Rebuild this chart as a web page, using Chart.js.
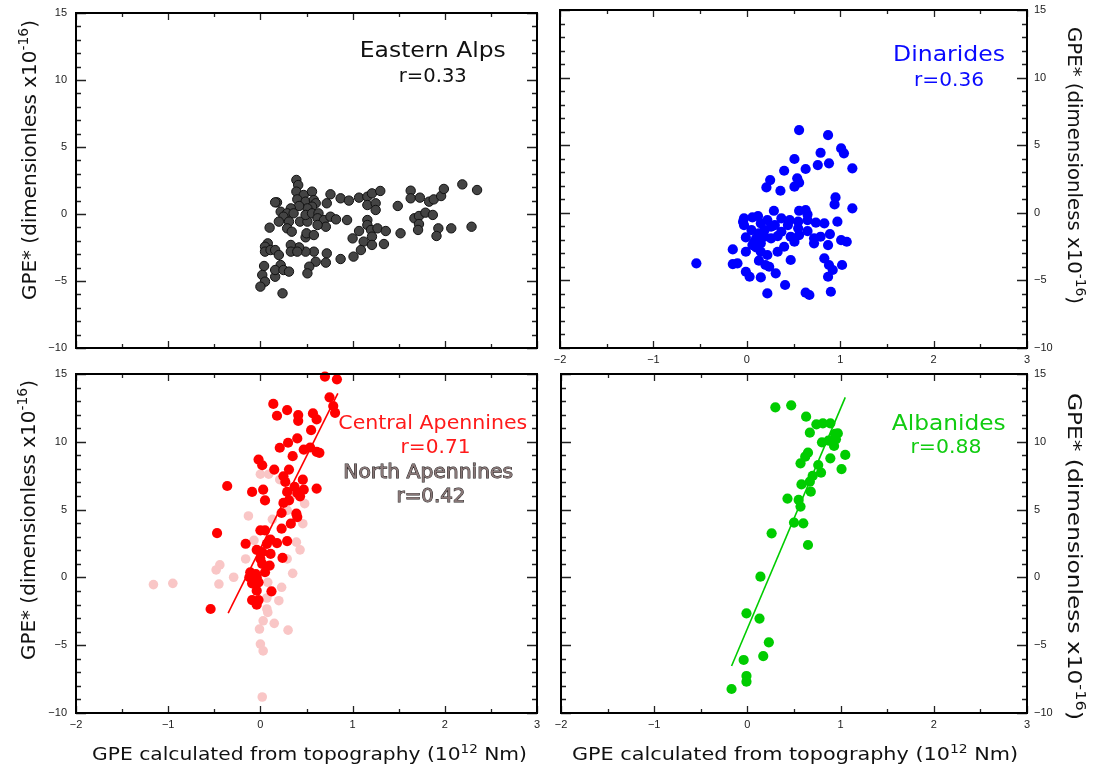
<!DOCTYPE html>
<html>
<head>
<meta charset="utf-8">
<script src="https://cdn.jsdelivr.net/npm/chart.js@4.4.0/dist/chart.umd.min.js"></script>
<style>
  body { margin: 0; background: #fff; }
  #wrap { position: relative; width: 1099px; height: 769px; overflow: hidden; }
  canvas { position: absolute; }
</style>
</head>
<body>
<div id="wrap">
  <canvas id="tl" width="549" height="360" style="left:0;top:0"></canvas>
  <canvas id="tr" width="550" height="372" style="left:549px;top:0"></canvas>
  <canvas id="bl" width="549" height="409" style="left:0;top:360px"></canvas>
  <canvas id="br" width="550" height="409" style="left:549px;top:360px"></canvas>
</div>
<script>
// tick labels
const xTickLabels = ['\u22122', '\u22121', '0', '1', '2', '3'];
const yTickLabels = ['\u221210', '\u22125', '0', '5', '10', '15'];

// [GPE from topography, GPE*]
const easternAlps = [
  [0.39,2.54],[0.41,2.16],[0.39,1.67],[0.47,1.42],[0.56,1.67],[0.18,0.87],[0.16,0.87],[0.40,1.09],
  [0.49,0.92],[0.58,1.04],[0.60,0.80],[0.56,0.55],[0.51,0.42],[0.42,0.60],[0.33,0.42],[0.22,0.17],
  [0.29,0.05],[0.36,0.05],[0.25,-0.20],[0.20,-0.57],[0.31,-0.57],[0.43,-0.57],[0.51,-0.57],[0.49,-0.07],
  [0.56,0.05],[0.63,0.05],[0.62,-0.32],[0.69,-0.45],[0.71,-0.95],[0.62,-0.82],[0.76,-0.20],[0.82,-0.40],
  [0.72,0.80],[0.76,1.47],[0.87,1.17],[0.96,1.00],[1.07,1.22],[1.16,1.29],[1.21,1.54],[1.30,1.72],
  [1.16,0.67],[1.25,0.80],[1.25,0.30],[0.94,-0.45],[1.16,-0.45],[1.16,-0.82],[1.07,-1.27],[1.00,-1.82],
  [1.20,-1.19],[1.27,-1.07],[1.36,-1.27],[1.21,-1.69],[1.12,-2.06],[1.21,-2.31],[1.34,-2.24],[1.09,-2.69],
  [1.01,-3.18],[0.87,-3.36],[0.72,-2.94],[0.71,-3.63],[0.60,-3.56],[0.58,-2.81],[0.49,-2.81],[0.42,-2.49],
  [0.33,-2.31],[0.33,-2.81],[0.40,-2.81],[0.49,-1.74],[0.50,-1.44],[0.58,-1.57],[0.10,-1.02],[0.29,-1.07],
  [0.34,-1.32],[0.08,-2.19],[0.05,-2.44],[0.05,-2.81],[0.11,-2.69],[0.16,-2.69],[0.20,-3.06],[0.04,-3.88],
  [0.02,-4.55],[0.05,-5.05],[0.00,-5.42],[0.16,-4.68],[0.22,-3.81],[0.16,-4.18],[0.25,-4.18],[0.31,-4.30],
  [0.53,-3.93],[0.51,-4.43],[0.24,-5.92],[1.49,0.60],[1.63,1.74],[1.63,1.17],[1.73,1.22],[1.83,0.92],
  [1.88,1.09],[1.96,1.34],[1.99,1.87],[2.19,2.21],[2.35,1.79],[1.67,-0.32],[1.72,-0.15],[1.79,0.10],
  [1.87,-0.07],[1.72,-0.75],[1.71,-1.19],[1.93,-1.07],[1.91,-1.64],[2.07,-1.07],[2.29,-0.95],[1.52,-1.44]
];

const dinarides = [
  [0.56,6.12],[0.87,5.75],[0.79,4.44],[1.01,4.76],[1.04,4.40],[0.51,3.98],[0.76,3.53],[0.88,3.66],
  [0.63,3.24],[1.13,3.29],[0.40,3.11],[0.25,2.42],[0.21,1.88],[0.36,1.63],[0.51,1.93],[0.56,2.23],
  [0.54,2.55],[0.95,1.14],[0.94,0.62],[1.13,0.33],[0.29,0.15],[0.56,0.15],[0.63,0.20],[0.65,-0.12],
  [0.74,-0.73],[0.83,-0.78],[0.97,-0.66],[-0.03,-0.41],[0.06,-0.34],[-0.03,-0.91],[0.15,-0.78],[0.22,-0.54],
  [0.37,-0.41],[0.46,-0.54],[0.55,-0.66],[0.26,-1.03],[0.44,-0.91],[0.55,-1.15],[0.05,-1.28],[0.13,-1.52],
  [-0.01,-1.82],[0.10,-1.89],[0.19,-1.77],[0.33,-1.72],[0.47,-1.77],[0.65,-1.35],[0.72,-1.89],[0.79,-1.77],
  [0.89,-1.57],[0.72,-2.26],[0.87,-2.39],[1.01,-2.02],[1.07,-2.14],[0.40,-2.51],[0.06,-2.39],[-0.01,-2.88],
  [0.15,-2.88],[0.22,-3.12],[0.33,-2.88],[0.47,-3.49],[0.13,-3.54],[-0.15,-2.71],[-0.15,-3.79],[-0.10,-3.74],
  [-0.01,-4.36],[0.03,-4.73],[0.15,-4.78],[0.20,-3.86],[0.24,-3.99],[0.31,-4.48],[0.83,-3.37],[0.88,-3.86],
  [1.02,-3.86],[0.92,-4.23],[0.87,-4.73],[0.41,-5.34],[0.22,-5.96],[0.63,-5.91],[0.67,-6.08],[0.90,-5.84],
  [-0.54,-3.74],[-0.04,-0.66],[0.12,-0.24],[0.30,-0.91],[0.19,-1.28],[0.37,-1.40],[0.56,-1.65],[0.08,-2.14],
  [0.51,-2.14],[0.26,-1.89],[0.65,-0.54],[0.15,-2.26],[0.10,-2.56]
];

const centralApennines = [
  [0.70,14.81],[0.83,14.61],[0.75,13.28],[0.79,12.64],[0.81,12.14],[0.14,12.79],[0.18,11.92],[0.29,12.34],
  [0.41,11.97],[0.41,11.55],[0.57,12.09],[0.61,11.65],[0.55,10.86],[0.40,10.25],[0.30,9.93],[0.21,9.56],
  [0.47,9.43],[0.54,9.58],[0.61,9.26],[0.64,9.19],[0.35,8.94],[-0.02,8.69],[0.02,8.27],[0.15,7.95],
  [0.31,7.95],[0.25,7.46],[0.27,7.04],[0.46,7.21],[0.37,6.67],[-0.36,6.74],[-0.09,6.30],[0.03,6.47],
  [0.05,5.68],[0.29,6.30],[0.40,6.23],[0.47,6.47],[0.61,6.55],[0.25,5.49],[0.23,4.75],[0.39,4.70],
  [0.40,4.45],[0.33,3.96],[0.23,3.59],[0.00,3.47],[0.05,3.47],[-0.47,3.27],[-0.16,2.48],[0.11,2.78],
  [0.18,2.53],[0.29,2.68],[0.31,5.68],[0.43,5.98],[-0.04,2.03],[0.07,2.47],[0.11,1.73],[0.00,1.36],
  [0.24,1.44],[0.10,0.87],[0.02,0.99],[-0.11,0.38],[-0.05,0.25],[-0.12,0.01],[-0.04,0.01],[-0.09,-0.44],
  [-0.02,-0.36],[-0.04,-0.98],[0.12,-1.03],[-0.09,-1.67],[-0.02,-1.67],[-0.04,-2.01],[-0.54,-2.33],[0.02,1.86],
  [0.05,0.38]
];

const northApennines = [
  [0.00,7.61],[0.09,7.61],[0.21,7.21],[0.48,5.44],[-0.13,4.53],[0.13,4.28],[0.46,3.96],[-0.07,2.73],
  [0.39,2.60],[0.33,5.93],[0.29,4.94],[0.43,2.03],[-0.16,1.36],[0.29,1.36],[-0.44,0.92],[-0.48,0.55],
  [-0.29,0.01],[0.35,0.30],[-0.45,-0.49],[0.08,-0.36],[0.23,-0.73],[0.07,-1.52],[0.20,-1.72],[0.07,-2.33],
  [0.08,-2.58],[0.03,-3.20],[0.15,-3.39],[-0.01,-3.81],[0.30,-3.89],[0.00,-4.92],[0.03,-5.42],[0.02,-8.82],
  [-1.16,-0.53],[-0.95,-0.44]
];

const albanides = [
  [0.30,12.54],[0.47,12.69],[0.63,11.85],[0.74,11.29],[0.81,11.36],[0.89,11.36],[0.67,10.67],[0.97,10.62],
  [0.80,9.96],[0.87,10.08],[0.95,10.18],[0.93,9.69],[1.05,9.03],[0.65,9.20],[0.62,8.90],[0.57,8.41],
  [0.89,8.78],[1.01,7.99],[0.76,8.29],[0.79,7.72],[0.70,7.48],[0.67,7.06],[0.58,6.86],[0.68,6.32],
  [0.43,5.81],[0.55,5.71],[0.57,5.22],[0.50,4.04],[0.60,3.99],[0.26,3.25],[0.65,2.39],[0.14,0.05],
  [-0.01,-2.65],[0.13,-3.04],[0.23,-4.79],[0.17,-5.80],[-0.04,-6.09],[-0.01,-7.27],[-0.01,-7.69],[-0.17,-8.23],
  [0.94,10.58]
];

// regression lines (end points)
const centralFit = [[-0.35,-2.63],[0.84,13.57]];
const albanidesFit = [[-0.17,-6.53],[1.05,13.28]];

const pts = arr => arr.map(([x, y]) => ({x, y}));

function richText(ctx, parts, cx, cy, angle, len) {
  let w = 0;
  parts.forEach(p => {
    ctx.font = p.size + 'px "DejaVu Sans"';
    p.w = ctx.measureText(p.text).width;
    w += p.w;
  });
  ctx.save();
  ctx.translate(cx, cy);
  ctx.rotate(angle);
  if (len) ctx.scale(len / w, 1);
  ctx.textAlign = 'left';
  ctx.textBaseline = 'alphabetic';
  ctx.fillStyle = '#111';
  let x0 = -w / 2;
  parts.forEach(p => {
    ctx.font = p.size + 'px "DejaVu Sans"';
    ctx.fillText(p.text, x0, -(p.rise || 0));
    x0 += p.w;
  });
  ctx.restore();
}

const yTitleParts = () => [
  {text: 'GPE* (dimensionless x10', size: 20},
  {text: '-16', size: 14, rise: 8},
  {text: ')', size: 20}
];
const xTitleParts = () => [
  {text: 'GPE calculated from topography (10', size: 18},
  {text: '12', size: 12, rise: 7},
  {text: ' Nm)', size: 18}
];

// frame, inward ticks, notes and axis titles
const panelDeco = {
  id: 'panelDeco',
  afterDatasetsDraw(chart, args, opts) {
    const {ctx, chartArea: a, scales: {x, y}} = chart;
    ctx.save();
    ctx.strokeStyle = '#222';
    ctx.lineWidth = 1.3;
    ctx.beginPath();
    x.ticks.forEach(t => {
      const px = Math.round(x.getPixelForValue(t.value)) + 0.5;
      const len = Number.isInteger(t.value) ? 7 : 4;
      ctx.moveTo(px, a.top); ctx.lineTo(px, a.top + len);
      ctx.moveTo(px, a.bottom); ctx.lineTo(px, a.bottom - len);
    });
    y.ticks.forEach(t => {
      const py = Math.round(y.getPixelForValue(t.value)) + 0.5;
      const len = t.value % 5 === 0 ? 10 : 5;
      ctx.moveTo(a.left, py); ctx.lineTo(a.left + len, py);
      ctx.moveTo(a.right, py); ctx.lineTo(a.right - len, py);
    });
    ctx.stroke();
    ctx.lineWidth = 2;
    ctx.strokeStyle = '#000';
    ctx.strokeRect(a.left, a.top, a.right - a.left, a.bottom - a.top);

    (opts.notes || []).forEach(n => {
      const px = x.getPixelForValue(n.x), py = y.getPixelForValue(n.y);
      ctx.save();
      ctx.font = n.size + 'px "DejaVu Sans"';
      const w = ctx.measureText(n.text).width;
      ctx.translate(px, py);
      ctx.scale(n.len / w, 1);
      ctx.textAlign = 'center';
      ctx.textBaseline = 'alphabetic';
      if (n.outline) {
        ctx.lineWidth = 0.9;
        ctx.strokeStyle = n.outline;
        ctx.strokeText(n.text, 0, 0);
      }
      ctx.fillStyle = n.color;
      ctx.fillText(n.text, 0, 0);
      ctx.restore();
    });

    if (opts.yTitle) {
      const t = opts.yTitle;
      richText(ctx, yTitleParts(), t.x, t.y, t.angle, t.len);
    }
    if (opts.xTitle) {
      const t = opts.xTitle;
      richText(ctx, xTitleParts(), t.x, t.y, 0, t.len);
    }
    ctx.restore();
  }
};

function makePanel(id, cfg) {
  return new Chart(document.getElementById(id), {
    type: 'scatter',
    data: {datasets: cfg.datasets},
    options: {
      responsive: false,
      animation: false,
      events: [],
      layout: {padding: cfg.padding},
      plugins: {legend: {display: false}, tooltip: {enabled: false}, panelDeco: cfg.deco},
      scales: {
        x: {
          type: 'linear', position: 'bottom', min: -2, max: 3,
          grid: {display: false, drawTicks: false},
          border: {display: false},
          ticks: {
            display: cfg.showX, stepSize: 0.5, autoSkip: false, maxRotation: 0, padding: 5,
            color: '#222', font: {family: 'Liberation Sans', size: 11},
            callback: v => Number.isInteger(v) ? xTickLabels[v + 2] : ''
          },
          afterFit: s => { s.height = cfg.xH; s.paddingLeft = 0; s.paddingRight = 0; }
        },
        y: {
          type: 'linear', position: cfg.ySide, min: -10, max: 15,
          grid: {display: false, drawTicks: false},
          border: {display: false},
          ticks: {
            stepSize: 1, autoSkip: false, padding: cfg.ySide === 'left' ? 9 : 7,
            color: '#222', font: {family: 'Liberation Sans', size: 11},
            callback: v => v % 5 === 0 ? yTickLabels[(v + 10) / 5] : ''
          },
          afterFit: s => { s.width = cfg.yW; s.paddingTop = 0; s.paddingBottom = 0; }
        }
      }
    },
    plugins: [panelDeco]
  });
}

const dot = (data, color, order, extra) => Object.assign({
  data: pts(data), order, clip: false,
  backgroundColor: color, pointRadius: 5.1, pointBorderWidth: 0, pointHoverRadius: 5.1
}, extra || {});
const fit = (data, color) => ({
  type: 'line', data: pts(data), order: 0, clip: false,
  borderColor: color, borderWidth: 1.6, pointRadius: 0, showLine: true, fill: false
});

makePanel('tl', {
  padding: {top: 13, right: 12, left: 0, bottom: 0},
  yW: 76, xH: 12, ySide: 'left', showX: false,
  datasets: [dot(easternAlps, '#444444', 1, {pointRadius: 4.7, pointBorderWidth: 1, borderColor: '#111'})],
  deco: {
    notes: [
      {text: 'Eastern Alps', x: 1.87, y: 11.72, size: 21, len: 146, color: '#111'},
      {text: 'r=0.33', x: 1.87, y: 9.85, size: 19, len: 68, color: '#111'}
    ],
    yTitle: {x: 36, y: 160, angle: -Math.PI / 2, len: 280}
  }
});

makePanel('tr', {
  padding: {top: 10, right: 0, left: 11, bottom: 0},
  yW: 72, xH: 24, ySide: 'right', showX: true,
  datasets: [dot(dinarides, '#0000ff', 1)],
  deco: {
    notes: [
      {text: 'Dinarides', x: 2.165, y: 11.23, size: 21, len: 112, color: '#0a0aff'},
      {text: 'r=0.36', x: 2.165, y: 9.38, size: 19, len: 70, color: '#0a0aff'}
    ],
    yTitle: {x: 519, y: 165.5, angle: Math.PI / 2, len: 277}
  }
});

makePanel('bl', {
  padding: {top: 14, right: 12, left: 0, bottom: 0},
  yW: 76, xH: 56, ySide: 'left', showX: true,
  datasets: [
    fit(centralFit, '#ff0000'),
    dot(centralApennines, '#ff0000', 1),
    dot(northApennines, '#f9c6c6', 2, {pointRadius: 4.8})
  ],
  deco: {
    notes: [
      {text: 'Central Apennines', x: 1.87, y: 10.93, size: 20, len: 189, color: '#ff1a1a'},
      {text: 'r=0.71', x: 1.90, y: 9.16, size: 19, len: 70, color: '#ff1a1a'},
      {text: 'North Apennines', x: 1.82, y: 7.31, size: 19, len: 170, color: '#8a7878', outline: '#1a1a1a'},
      {text: 'r=0.42', x: 1.85, y: 5.53, size: 19, len: 69, color: '#8a7878', outline: '#1a1a1a'}
    ],
    yTitle: {x: 35, y: 160, angle: -Math.PI / 2, len: 280},
    xTitle: {x: 309.5, y: 400, len: 435}
  }
});

makePanel('br', {
  padding: {top: 14, right: 0, left: 12, bottom: 0},
  yW: 72, xH: 56, ySide: 'right', showX: true,
  datasets: [
    fit(albanidesFit, '#00cc00'),
    dot(albanides, '#00cc00', 1)
  ],
  deco: {
    notes: [
      {text: 'Albanides', x: 2.16, y: 10.87, size: 21, len: 114, color: '#11cc11'},
      {text: 'r=0.88', x: 2.13, y: 9.17, size: 19, len: 71, color: '#11cc11'}
    ],
    yTitle: {x: 519, y: 196.5, angle: Math.PI / 2, len: 327},
    xTitle: {x: 246, y: 400, len: 446}
  }
});
</script>
</body>
</html>
